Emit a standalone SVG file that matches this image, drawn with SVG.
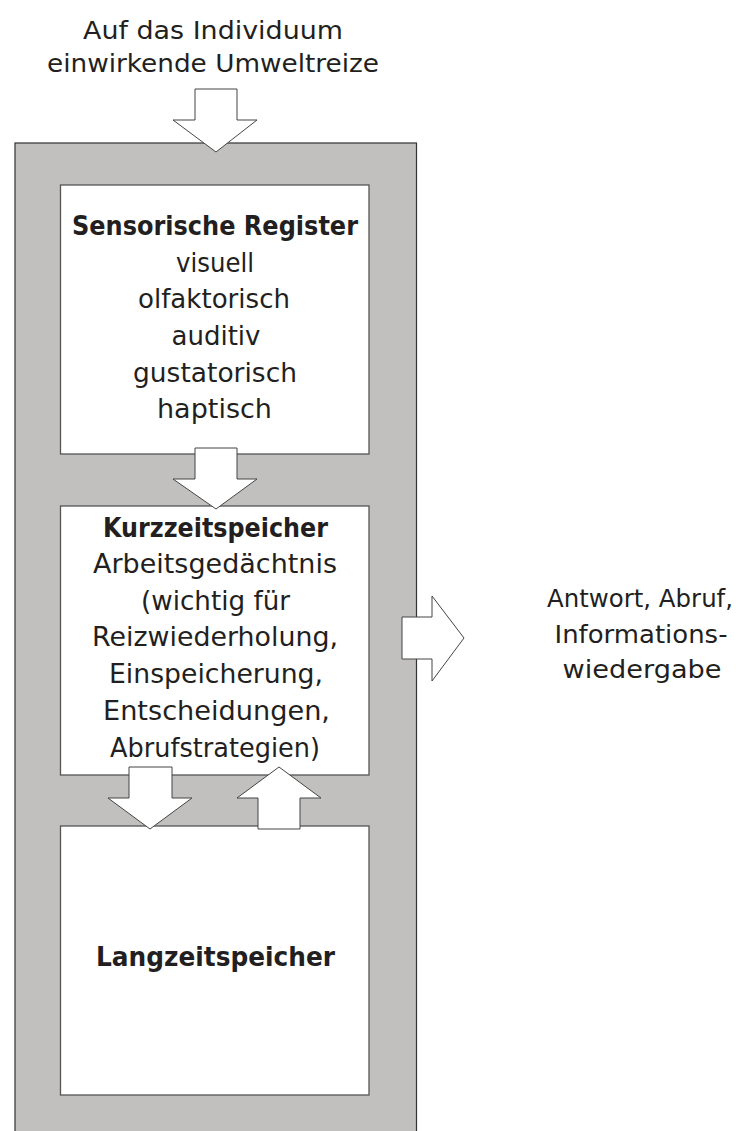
<svg xmlns="http://www.w3.org/2000/svg" width="740" height="1131" viewBox="0 0 740 1131">
<style>
.frame{fill:#c1c0be;stroke:#333;stroke-width:1.2}
.box{fill:#fff;stroke:#555;stroke-width:1.3}
.arr{fill:#fff;stroke:#444;stroke-width:1}
text{font-family:"DejaVu Sans","Liberation Sans",sans-serif;fill:#231f20;text-anchor:middle;font-size:27px}
.t{font-size:24px}
.o{font-size:24.5px}
.b{font-weight:bold;font-size:26px}
</style>
<rect width="740" height="1131" fill="#fff"/>
<g id="memory-system">
<rect class="frame" x="15" y="143" width="401.5" height="1000"/>
</g>
<g id="input-label">
<text class="t" x="213" y="39" textLength="260" lengthAdjust="spacingAndGlyphs">Auf das Individuum</text>
<text class="t" x="213" y="72" textLength="332" lengthAdjust="spacingAndGlyphs">einwirkende Umweltreize</text>
</g>
<g id="sensorische-register">
<rect class="box" x="60.5" y="185" width="308.5" height="269"/>
<text class="b" x="215" y="235" textLength="286" lengthAdjust="spacingAndGlyphs">Sensorische Register</text>
<text x="215" y="272" textLength="78" lengthAdjust="spacingAndGlyphs">visuell</text>
<text x="214" y="308" textLength="152" lengthAdjust="spacingAndGlyphs">olfaktorisch</text>
<text x="216" y="345" textLength="89" lengthAdjust="spacingAndGlyphs">auditiv</text>
<text x="215" y="382" textLength="164" lengthAdjust="spacingAndGlyphs">gustatorisch</text>
<text x="214.5" y="418" textLength="115" lengthAdjust="spacingAndGlyphs">haptisch</text>
</g>
<g id="kurzzeitspeicher">
<rect class="box" x="60.5" y="506" width="308.5" height="269"/>
<text class="b" x="215.5" y="537" textLength="225" lengthAdjust="spacingAndGlyphs">Kurzzeitspeicher</text>
<text x="215" y="573" textLength="244" lengthAdjust="spacingAndGlyphs">Arbeitsgedächtnis</text>
<text x="215.5" y="610" textLength="149" lengthAdjust="spacingAndGlyphs">(wichtig für</text>
<text x="215" y="646" textLength="246" lengthAdjust="spacingAndGlyphs">Reizwiederholung,</text>
<text x="216" y="683" textLength="214" lengthAdjust="spacingAndGlyphs">Einspeicherung,</text>
<text x="216.5" y="720" textLength="227" lengthAdjust="spacingAndGlyphs">Entscheidungen,</text>
<text x="215" y="757" textLength="210" lengthAdjust="spacingAndGlyphs">Abrufstrategien)</text>
</g>
<g id="langzeitspeicher">
<rect class="box" x="60.5" y="826" width="308.5" height="269"/>
<text class="b" x="215.5" y="966" textLength="239" lengthAdjust="spacingAndGlyphs">Langzeitspeicher</text>
</g>
<g id="output-label">
<text class="o" x="640" y="607" textLength="186" lengthAdjust="spacingAndGlyphs">Antwort, Abruf,</text>
<text class="o" x="641" y="643" textLength="173" lengthAdjust="spacingAndGlyphs">Informations-</text>
<text class="o" x="642" y="678" textLength="159" lengthAdjust="spacingAndGlyphs">wiedergabe</text>
</g>
<g id="connectors">
<polygon class="arr" points="195,89 237,89 237,120 257,120 216,152 173,120 195,120"/>
<polygon class="arr" points="195,448 237,448 237,479 257,479 216,509 173,479 195,479"/>
<polygon class="arr" points="129,767 172,767 172,798 192,798 150,829 108,798 129,798"/>
<polygon class="arr" points="279,767 321,798 300,798 300,829 258,829 258,798 237,798"/>
<polygon class="arr" points="402,617 432,617 432,596 464,638 432,681 432,659 402,659"/>
</g>
</svg>
